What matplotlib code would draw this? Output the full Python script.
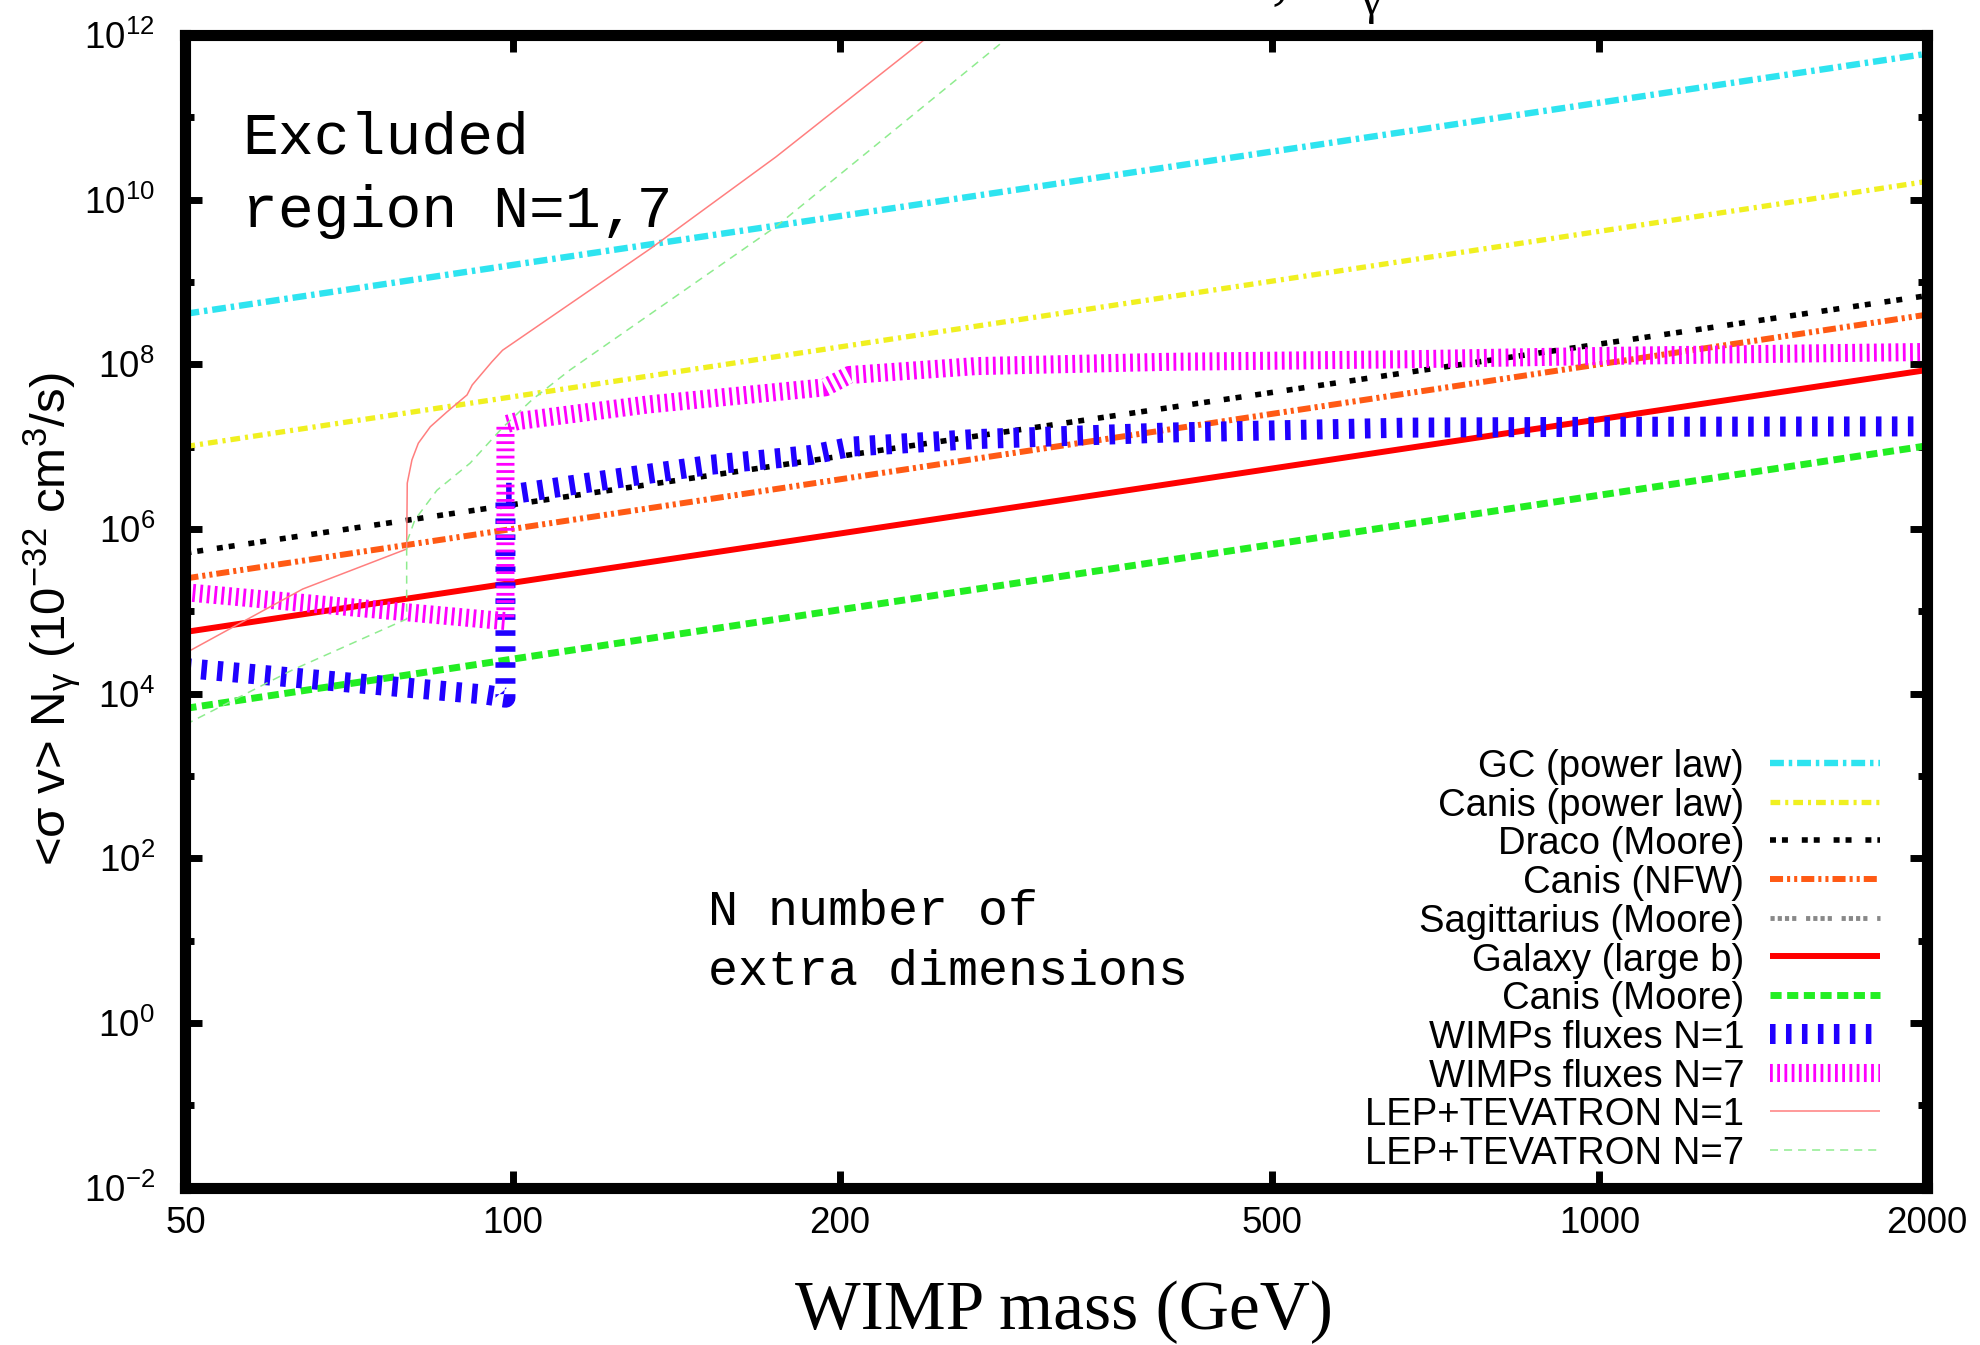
import matplotlib
matplotlib.use('Agg')
import matplotlib.pyplot as plt
from matplotlib.ticker import FixedLocator, FixedFormatter, NullLocator, NullFormatter

plt.rcParams['font.family'] = ['Liberation Sans', 'DejaVu Sans']
plt.rcParams['mathtext.fontset'] = 'custom'
plt.rcParams['mathtext.rm'] = 'Liberation Sans'
plt.rcParams['mathtext.it'] = 'Liberation Sans:italic'
plt.rcParams['mathtext.bf'] = 'Liberation Sans:bold'
plt.rcParams['axes.unicode_minus'] = False
plt.rcParams['lines.scale_dashes'] = False

# ---- data (mass in GeV, <sigma v> N_gamma in 1e-32 cm^3/s)
mass_pl = [50, 2000]
gc_power = [4.1e8, 5.9e11]
canis_power = [1.0e7, 1.66e10]
draco_moore = [5.1e5, 6.8e8]
canis_nfw = [2.5e5, 4.0e8]
sagittarius = []
galaxy_b = [5.6e4, 8.5e7]
canis_moore = [6.6e3, 1.02e7]

mass_n1 = [50, 94.5, 98.5, 98.5, 102, 123, 152, 188, 205, 265, 400, 667, 1000, 2000]
wimp_n1 = [2.04e4, 9.7e3, 8.9e3, 2.75e6, 2.75e6, 4.0e6, 6.0e6, 7.9e6, 1.0e7,
           1.23e7, 1.48e7, 1.70e7, 1.74e7, 1.76e7]

mass_n7 = [50, 95, 98.5, 98.5, 101, 133, 194, 204, 267, 400, 667, 1000, 2000]
wimp_n7 = [1.7e5, 7.9e4, 7.6e4, 1.86e7, 2.04e7, 3.24e7, 5.25e7, 7.4e7, 9.5e7,
           1.07e8, 1.15e8, 1.26e8, 1.41e8]

mass_lep1 = [50, 64.1, 79.9, 80.0, 80.8, 81.9, 84.0, 87.0, 90.8, 91.8, 95.7, 97.9,
             134.1, 174.7, 239.6, 242]
lep_n1 = [3.1e4, 1.86e5, 5.7e5, 3.6e6, 6.9e6, 1.1e7, 1.74e7, 2.63e7, 4.24e7, 5.6e7,
          1.07e8, 1.48e8, 2.57e9, 3.3e10, 8.9e11, 1.0e12]

mass_lep7 = [50, 62.8, 79.9, 79.9, 81.3, 85.2, 91.4, 97.9, 104.2, 112.9, 174.7, 284.5, 287]
lep_n7 = [4.2e3, 1.95e4, 8.05e4, 6.8e5, 1.29e6, 2.95e6, 6.3e6, 1.7e7, 3.7e7, 8.5e7,
          4.7e9, 8.9e11, 1.0e12]

labels = ['GC (power law)', 'Canis (power law)', 'Draco (Moore)', 'Canis (NFW)',
          'Sagittarius (Moore)', 'Galaxy (large b)', 'Canis (Moore)',
          'WIMPs fluxes N=1', 'WIMPs fluxes N=7', 'LEP+TEVATRON N=1', 'LEP+TEVATRON N=7']

xticks = [50, 100, 200, 500, 1000, 2000]
xticklabels = ['50', '100', '200', '500', '1000', '2000']
yticks = [1e-2, 1e0, 1e2, 1e4, 1e6, 1e8, 1e10, 1e12]
yticklabels = [r'$10^{-2}$', r'$10^{0}$', r'$10^{2}$', r'$10^{4}$', r'$10^{6}$',
               r'$10^{8}$', r'$10^{10}$', r'$10^{12}$']
yminor = [1e-1, 1e1, 1e3, 1e5, 1e7, 1e9, 1e11]

series = [
    (mass_pl, gc_power, dict(color='#2ee4f0', lw=4.6, ls=(0, (10, 3.5, 2.5, 3.5)))),
    (mass_pl, canis_power, dict(color='#f0f020', lw=3.8, ls=(0, (7, 3.6, 2.2, 3.6)))),
    (mass_pl, draco_moore, dict(color='black', lw=4, ls=(0, (4.3, 4.3, 4.3, 10)))),
    (mass_pl, canis_nfw, dict(color='#ff5a14', lw=4.3, ls=(0, (9.4, 2.9, 2.2, 2.9, 2.2, 2.9)))),
    (sagittarius, sagittarius, dict(color='#888888', lw=3.5, ls=(0, (3, 2.2, 3, 2.2, 3, 2.2, 3, 7)))),
    (mass_pl, galaxy_b, dict(color='#ff0000', lw=4.3, ls='-')),
    (mass_pl, canis_moore, dict(color='#22ee22', lw=5, ls=(0, (8, 4)))),
    (mass_n1, wimp_n1, dict(color='#1f00ff', lw=14.4, ls=(0, (4, 7.5)))),
    (mass_n7, wimp_n7, dict(color='#ff00ff', lw=13, ls=(0, (2.0, 3.2)))),
    (mass_lep1, lep_n1, dict(color='#ff7f7f', lw=1.1, ls='-')),
    (mass_lep7, lep_n7, dict(color='#8fec8f', lw=1.1, ls=(0, (5.8, 4.3)))),
]

fig = plt.figure(figsize=(19.81, 13.45), dpi=100)
ax = fig.add_axes([0.0936, 0.1171, 0.8789, 0.8569])

for xs, ys, st in series:
    ax.plot(xs, ys, solid_capstyle='butt', dash_capstyle='butt', **st)

ax.set_xscale('log')
ax.set_yscale('log')
ax.set_xlim(50, 2000)
ax.set_ylim(1e-2, 1e12)
ax.xaxis.set_major_locator(FixedLocator(xticks))
ax.xaxis.set_major_formatter(FixedFormatter(xticklabels))
ax.xaxis.set_minor_locator(NullLocator())
ax.yaxis.set_major_locator(FixedLocator(yticks))
ax.yaxis.set_major_formatter(FixedFormatter(yticklabels))
ax.yaxis.set_minor_locator(FixedLocator(yminor))
ax.yaxis.set_minor_formatter(NullFormatter())
ax.tick_params(which='both', direction='in', top=True, right=True, width=5)
ax.tick_params(which='major', length=12.5, labelsize=26.5)
ax.tick_params(which='minor', length=6.5)
ax.tick_params(axis='x', pad=13)
ax.tick_params(axis='y', pad=22)
for sp in ax.spines.values():
    sp.set_linewidth(8)

# legend drawn by hand: right aligned labels, samples at the right
row0 = (1187.5 - 763) / 1152.5
step = 38.7 / 1152.5
for i, (lab, (xs, ys, st)) in enumerate(zip(labels, series)):
    yy = row0 - i * step
    ax.text(0.8952, yy - 0.0122, lab, transform=ax.transAxes, ha='right', va='baseline',
            fontsize=27.5)
    ax.plot([0.9101, 0.9733], [yy, yy], transform=ax.transAxes, solid_capstyle='butt',
            dash_capstyle='butt', **st)

mono = ['Liberation Mono', 'DejaVu Sans Mono']
fig.text(242 / 1981, 1 - 153 / 1345, 'Excluded', family=mono, fontsize=43, va='baseline')
fig.text(242 / 1981, 1 - 227 / 1345, 'region N=1,7', family=mono, fontsize=43, va='baseline')
fig.text(708 / 1981, 1 - 925 / 1345, 'N number of', family=mono, fontsize=36, va='baseline')
fig.text(708 / 1981, 1 - 985 / 1345, 'extra dimensions', family=mono, fontsize=36, va='baseline')

serif = ['Liberation Serif', 'DejaVu Serif']
fig.text(1064 / 1981, 1 - 1329 / 1345, 'WIMP mass (GeV)', family=serif,
         fontsize=50, ha='center', va='baseline')
fig.text(52 / 1981, 1 - 619 / 1345, r'<σ v> N$_{\mathrm{γ}}$ (10$^{-32}$ cm$^{3}$/s)',
         rotation=90, fontsize=35.5, ha='center', va='center')
# title of the original, cut off at the top edge: only the tails show
fig.text(1357 / 1981, 1 + 5 / 1345, '<σ v>, N', family=serif,
         fontsize=50, ha='right', va='baseline')
fig.text(1360 / 1981, 1 - 14 / 1345, 'γ', family=serif, fontsize=34, ha='left', va='baseline')

fig.savefig('out.png', dpi=100)
